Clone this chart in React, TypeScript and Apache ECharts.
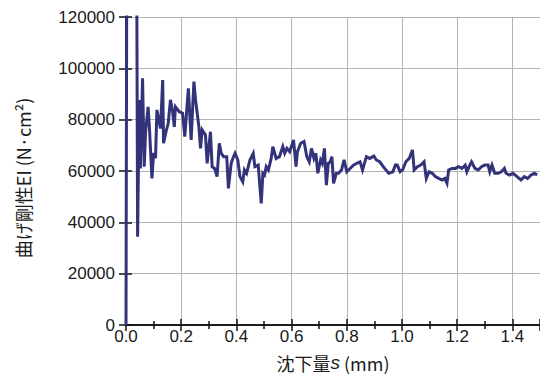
import { useEffect, useRef } from 'react';
import * as echarts from 'echarts';

// settlement s (mm)
const settlement = [
  0.0, 0.004, 0.037, 0.042, 0.048, 0.052, 0.06, 0.066, 0.071, 0.08, 0.085, 0.094, 0.1, 0.107, 0.112, 0.119,
  0.125, 0.133, 0.136, 0.145, 0.153, 0.161, 0.168, 0.175, 0.179, 0.193, 0.205, 0.213, 0.226, 0.236, 0.246,
  0.252, 0.264, 0.27, 0.276, 0.288, 0.294, 0.306, 0.312, 0.321, 0.33, 0.338, 0.345, 0.354, 0.365, 0.371,
  0.381, 0.387, 0.395, 0.405, 0.413, 0.423, 0.429, 0.437, 0.449, 0.461, 0.467, 0.479, 0.49, 0.496, 0.502,
  0.508, 0.516, 0.526, 0.532, 0.544, 0.556, 0.568, 0.575, 0.583, 0.593, 0.607, 0.616, 0.621, 0.633, 0.645,
  0.655, 0.664, 0.672, 0.681, 0.688, 0.695, 0.705, 0.711, 0.719, 0.726, 0.733, 0.74, 0.746, 0.752, 0.762,
  0.77, 0.781, 0.79, 0.8, 0.812, 0.824, 0.836, 0.848, 0.857, 0.871, 0.883, 0.898, 0.907, 0.919, 0.937,
  0.952, 0.967, 0.976, 0.983, 0.993, 1.002, 1.014, 1.026, 1.038, 1.044, 1.056, 1.068, 1.08, 1.088, 1.098,
  1.11, 1.121, 1.133, 1.145, 1.155, 1.163, 1.169, 1.181, 1.193, 1.205, 1.217, 1.229, 1.235, 1.243, 1.252,
  1.264, 1.276, 1.288, 1.3, 1.312, 1.318, 1.326, 1.336, 1.348, 1.36, 1.371, 1.377, 1.389, 1.402, 1.417,
  1.431, 1.443, 1.455, 1.467, 1.479, 1.49,
];

// bending stiffness EI (N·cm²)
const stiffness = [
  0, 200000, 200000, 34400, 87700, 61000, 96100, 61700, 75300, 85000, 76600, 57100, 67000, 65000, 83800, 79900,
  76600, 95400, 70800, 75300, 78600, 87700, 83800, 77200, 85000, 83100, 82500, 73400, 92200, 72100, 94800,
  87700, 77300, 68800, 76000, 74000, 63000, 75300, 61700, 61000, 57800, 70800, 66900, 65600, 65600, 53200,
  63000, 64900, 66900, 64300, 57800, 55800, 60400, 59100, 64300, 66900, 61700, 62300, 47400, 59100, 58400,
  61700, 60400, 64900, 69500, 64900, 65600, 69500, 66900, 68800, 67500, 72100, 61700, 67500, 70800, 71500,
  65600, 63600, 68800, 64900, 66900, 59100, 64300, 63000, 68800, 54500, 63000, 63600, 65600, 55200, 59100,
  59100, 60400, 64300, 59700, 61000, 62300, 63000, 63600, 60400, 65600, 64900, 65800, 64300, 63600, 61000,
  59100, 59700, 62300, 62300, 59700, 60400, 63600, 64900, 68200, 60400, 61700, 62300, 63600, 57100, 59700,
  59100, 57800, 57100, 56500, 57100, 55200, 60400, 61000, 61000, 61700, 61000, 62300, 59700, 61700, 63600,
  61000, 60400, 61700, 62300, 62300, 59700, 62300, 59100, 59100, 59700, 61000, 59100, 58400, 59100, 57800,
  56500, 57800, 57100, 58400, 59100, 58500,
];

const xMin = 0;
const xMax = 1.5;
const xInterval = 0.2;
const yMin = 0;
const yMax = 120000;
const yInterval = 20000;

const xTitle = '沈下量';
const xTitleVar = 's';
const xTitleUnit = ' (mm)';
const yTitle = '曲げ剛性EI (N·cm²)';

const FONT = 'Liberation Sans';
const CJK = 'Noto Sans CJK JP';

export default function App() {
  const ref = useRef<HTMLDivElement>(null);

  useEffect(() => {
    if (!ref.current) return;
    const chart = echarts.init(ref.current, null, { renderer: 'svg' });
    const data = settlement.map((s, i) => [s, stiffness[i]]);

    const axisLine = { show: true, lineStyle: { color: '#111', width: 1.5 } };

    chart.setOption({
      animation: false,
      backgroundColor: '#ffffff',
      grid: { left: 126, top: 17, width: 420, height: 308, containLabel: false },
      graphic: [
        {
          type: 'text',
          x: 23,
          y: 178,
          rotation: Math.PI / 2,
          style: {
            text: yTitle,
            fontSize: 18,
            fontFamily: CJK,
            fill: '#1a1a1a',
            align: 'center',
            verticalAlign: 'middle',
          },
        },
      ],
      xAxis: [
        {
          type: 'value',
          min: xMin,
          max: xMax,
          interval: xInterval,
          position: 'bottom',
          name: `{a|${xTitle}}{b|${xTitleVar}}{a|${xTitleUnit}}`,
          nameLocation: 'middle',
          nameGap: 28,
          nameTextStyle: {
            rich: {
              a: { fontSize: 18, fontFamily: CJK, color: '#1a1a1a' },
              b: { fontSize: 19, fontFamily: FONT, fontStyle: 'italic', color: '#1a1a1a' },
            },
          },
          axisLine,
          axisTick: { show: true, inside: true, length: 6, lineStyle: { color: '#111', width: 1.5 } },
          minorTick: { show: true, splitNumber: 2, length: 4, lineStyle: { color: '#111', width: 1.5 } },
          axisLabel: {
            fontSize: 17,
            fontFamily: FONT,
            color: '#1a1a1a',
            margin: 3,
            showMaxLabel: false,
            formatter: (v: number) => v.toFixed(1),
          },
          splitLine: { show: true, lineStyle: { color: '#b4b4b4', width: 1 } },
        },
        {
          type: 'value',
          min: xMin,
          max: xMax,
          interval: xInterval,
          position: 'top',
          axisLine,
          axisTick: { show: true, inside: true, length: 6, lineStyle: { color: '#111', width: 1.5 } },
          minorTick: { show: true, splitNumber: 2, length: 4, lineStyle: { color: '#111', width: 1.5 } },
          axisLabel: { show: false },
          splitLine: { show: false },
        },
      ],
      yAxis: [
        {
          type: 'value',
          min: yMin,
          max: yMax,
          interval: yInterval,
          position: 'left',
          axisLine,
          axisTick: { show: true, inside: true, length: 6, lineStyle: { color: '#111', width: 1.5 } },
          axisLabel: {
            fontSize: 17,
            fontFamily: FONT,
            color: '#1a1a1a',
            margin: 11,
            formatter: (v: number) => String(v),
          },
          splitLine: { show: true, lineStyle: { color: '#b4b4b4', width: 1 } },
        },
        {
          type: 'value',
          min: yMin,
          max: yMax,
          interval: yInterval,
          position: 'right',
          axisLine,
          axisTick: { show: true, inside: true, length: 7, lineStyle: { color: '#111', width: 1.5 } },
          axisLabel: { show: false },
          splitLine: { show: false },
        },
      ],
      series: [
        {
          type: 'line',
          data,
          xAxisIndex: 0,
          yAxisIndex: 0,
          showSymbol: false,
          symbol: 'none',
          clip: true,
          z: 1,
          lineStyle: { color: '#33337c', width: 3, join: 'miter' },
        },
      ],
    });

    return () => chart.dispose();
  }, []);

  return (
    <div
      ref={ref}
      style={{ position: 'fixed', left: 0, top: 0, width: 540, height: 385, background: '#fff' }}
    />
  );
}
